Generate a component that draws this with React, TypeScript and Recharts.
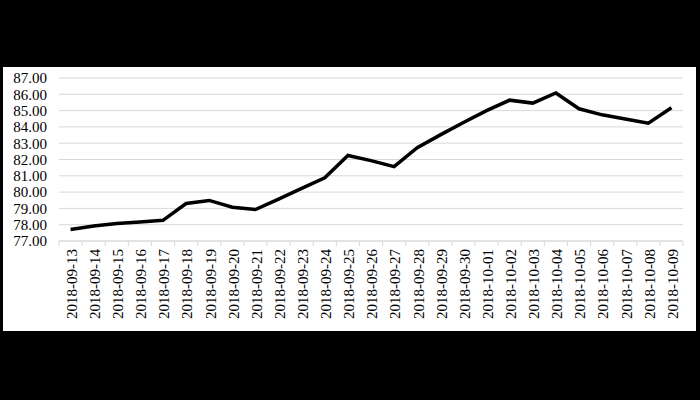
import React from "react";
import { LineChart, Line, XAxis, YAxis, CartesianGrid } from "recharts";

const dates = [
  "2018-09-13", "2018-09-14", "2018-09-15", "2018-09-16", "2018-09-17",
  "2018-09-18", "2018-09-19", "2018-09-20", "2018-09-21", "2018-09-22",
  "2018-09-23", "2018-09-24", "2018-09-25", "2018-09-26", "2018-09-27",
  "2018-09-28", "2018-09-29", "2018-09-30", "2018-10-01", "2018-10-02",
  "2018-10-03", "2018-10-04", "2018-10-05", "2018-10-06", "2018-10-07",
  "2018-10-08", "2018-10-09",
];

const prices = [
  77.7, 77.92, 78.07, 78.17, 78.27,
  79.3, 79.49, 79.07, 78.93, 79.57,
  80.23, 80.88, 82.25, 81.93, 81.56,
  82.73, 83.51, 84.27, 85.0, 85.64,
  85.46, 86.08, 85.11, 84.74, 84.48,
  84.23, 85.17,
];

const yTicks = [77, 78, 79, 80, 81, 82, 83, 84, 85, 86, 87];

const data = dates.map((d, i) => ({ date: d, price: prices[i] }));

const W = 700;
const H = 400;
const M = { top: 78, right: 17, bottom: 69, left: 0 };
const Y_W = 59;
const X_H = 90;
const PLOT_W = W - M.left - M.right - Y_W;
const HALF_BAND = PLOT_W / dates.length / 2;
const FONT = "'Liberation Serif', 'Times New Roman', serif";

const DateTick = (props: any) => {
  const { x, y, payload, index } = props;
  const last = index === dates.length - 1;
  return (
    <g>
      <line x1={x - HALF_BAND} y1={y} x2={x - HALF_BAND} y2={y + 5} stroke="#d9d9d9" strokeWidth={1} />
      {last && (
        <line x1={x + HALF_BAND} y1={y} x2={x + HALF_BAND} y2={y + 5} stroke="#d9d9d9" strokeWidth={1} />
      )}
      <text
        x={x}
        y={y + 8}
        transform={`rotate(-90, ${x}, ${y + 8})`}
        textAnchor="end"
        dy="0.42em"
        fontSize={15}
        fontFamily={FONT}
        fill="#000"
      >
        {payload.value}
      </text>
    </g>
  );
};

export default function App() {
  return (
    <div style={{ position: "relative", width: W, height: H, background: "#000" }}>
      <style>{"body{margin:0;}"}</style>
      <div style={{ position: "absolute", left: 3, top: 67, width: 693, height: 264, background: "#fff" }} />
      <div style={{ position: "absolute", left: 0, top: 0 }}>
        <LineChart width={W} height={H} data={data} margin={M}>
          <CartesianGrid vertical={false} stroke="#d9d9d9" strokeWidth={1} />
          <XAxis
            dataKey="date"
            scale="band"
            interval={0}
            height={X_H}
            axisLine={{ stroke: "#d9d9d9", strokeWidth: 1 }}
            tickLine={false}
            tickSize={0}
            tickMargin={0}
            tick={<DateTick />}
          />
          <YAxis
            domain={[77, 87]}
            ticks={yTicks}
            interval={0}
            width={Y_W}
            axisLine={false}
            tickLine={false}
            tickSize={0}
            tickMargin={12}
            tickFormatter={(v: number) => v.toFixed(2)}
            tick={{ fontSize: 15, fontFamily: FONT, fill: "#000" }}
          />
          <Line
            type="linear"
            dataKey="price"
            stroke="#000"
            strokeWidth={3.5}
            dot={false}
            isAnimationActive={false}
          />
        </LineChart>
      </div>
    </div>
  );
}
